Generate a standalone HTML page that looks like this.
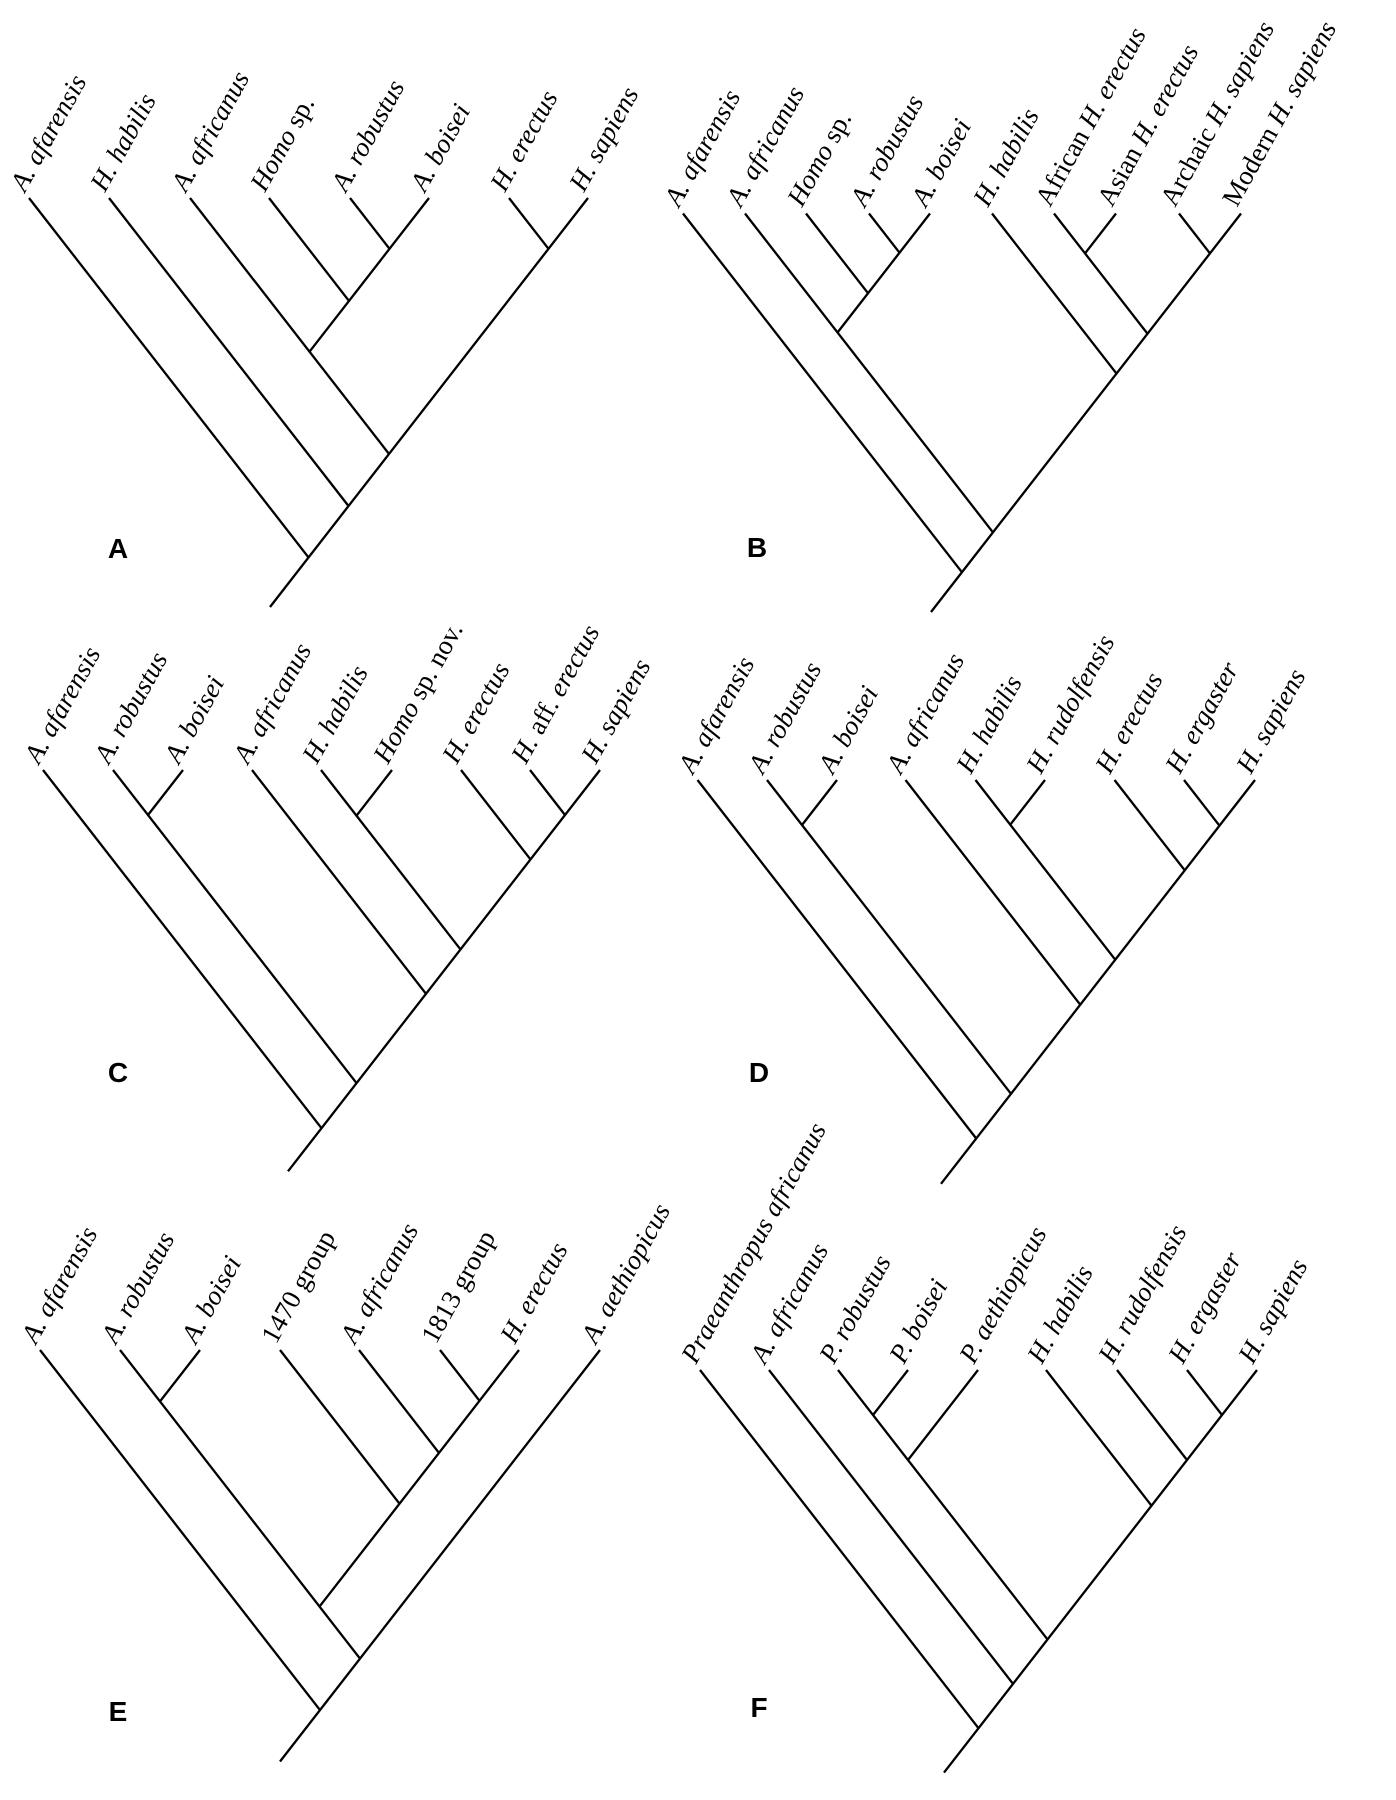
<!DOCTYPE html>
<html><head><meta charset="utf-8"><style>
html,body{margin:0;padding:0;background:#fff;}
svg{display:block;}
.l{stroke:#000;stroke-width:2.3;fill:none;stroke-linecap:butt;}
.t{font-family:"Liberation Serif",serif;font-size:27px;font-style:italic;fill:#000;}
.u{font-style:normal;}
.p{font-family:"Liberation Sans",sans-serif;font-weight:bold;font-size:28px;fill:#000;text-anchor:middle;}
</style></head><body>
<svg width="1396" height="1800" viewBox="0 0 1396 1800" xmlns="http://www.w3.org/2000/svg">
<g class="l">
<line x1="29" y1="198" x2="308.5" y2="557.4"/>
<line x1="109" y1="198" x2="348.5" y2="506"/>
<line x1="190" y1="198" x2="389" y2="453.9"/>
<line x1="269" y1="198" x2="349" y2="300.9"/>
<line x1="350" y1="198" x2="389.5" y2="248.8"/>
<line x1="429" y1="198" x2="309.5" y2="351.7"/>
<line x1="509" y1="198" x2="548.5" y2="248.8"/>
<line x1="588" y1="198" x2="270" y2="607"/>
<line x1="683" y1="213.5" x2="962" y2="572.3"/>
<line x1="745" y1="213.5" x2="993" y2="532.4"/>
<line x1="806" y1="213.5" x2="868" y2="293.2"/>
<line x1="869" y1="213.5" x2="899.5" y2="252.7"/>
<line x1="930" y1="213.5" x2="837.5" y2="332.5"/>
<line x1="992" y1="213.5" x2="1116.5" y2="373.6"/>
<line x1="1054" y1="213.5" x2="1147.5" y2="333.7"/>
<line x1="1116" y1="213.5" x2="1085" y2="253.4"/>
<line x1="1179" y1="213.5" x2="1210" y2="253.4"/>
<line x1="1241" y1="213.5" x2="931" y2="612"/>
<line x1="43" y1="770" x2="321.5" y2="1128.2"/>
<line x1="113" y1="770" x2="356.5" y2="1083.1"/>
<line x1="183" y1="770" x2="148" y2="815"/>
<line x1="252" y1="770" x2="426" y2="993.8"/>
<line x1="321" y1="770" x2="460.5" y2="949.4"/>
<line x1="392" y1="770" x2="356.5" y2="815.7"/>
<line x1="461" y1="770" x2="530.5" y2="859.4"/>
<line x1="530" y1="770" x2="565" y2="815"/>
<line x1="600" y1="770" x2="288" y2="1171.3"/>
<line x1="697.5" y1="780" x2="976.25" y2="1138.5"/>
<line x1="767" y1="780" x2="1011" y2="1093.8"/>
<line x1="837" y1="780" x2="802" y2="825"/>
<line x1="905.5" y1="780" x2="1080.25" y2="1004.7"/>
<line x1="975.5" y1="780" x2="1115.25" y2="959.7"/>
<line x1="1045" y1="780" x2="1010.25" y2="824.7"/>
<line x1="1114.5" y1="780" x2="1184.75" y2="870.3"/>
<line x1="1184" y1="780" x2="1219.5" y2="825.7"/>
<line x1="1255" y1="780" x2="941" y2="1183.8"/>
<line x1="40" y1="1350" x2="320" y2="1710.1"/>
<line x1="120" y1="1350" x2="360" y2="1658.6"/>
<line x1="200" y1="1350" x2="160" y2="1401.4"/>
<line x1="280" y1="1350" x2="399.5" y2="1503.7"/>
<line x1="359" y1="1350" x2="439" y2="1452.9"/>
<line x1="440" y1="1350" x2="479.5" y2="1400.8"/>
<line x1="519" y1="1350" x2="319.5" y2="1606.6"/>
<line x1="600" y1="1350" x2="280" y2="1761.5"/>
<line x1="700" y1="1370" x2="978.5" y2="1728.2"/>
<line x1="769" y1="1370" x2="1013" y2="1683.8"/>
<line x1="838" y1="1370" x2="1047.5" y2="1639.4"/>
<line x1="908" y1="1370" x2="873" y2="1415"/>
<line x1="978" y1="1370" x2="908" y2="1460"/>
<line x1="1046" y1="1370" x2="1151.5" y2="1505.7"/>
<line x1="1117" y1="1370" x2="1187" y2="1460"/>
<line x1="1187" y1="1370" x2="1222" y2="1415"/>
<line x1="1257" y1="1370" x2="944" y2="1772.6"/>
</g>
<g class="t">
<text transform="translate(25,193) rotate(-61)">A. afarensis</text>
<text transform="translate(105,193) rotate(-61)">H. habilis</text>
<text transform="translate(186,193) rotate(-61)">A. africanus</text>
<text transform="translate(265,193) rotate(-61)">Homo <tspan class="u">sp.</tspan></text>
<text transform="translate(346,193) rotate(-61)">A. robustus</text>
<text transform="translate(425,193) rotate(-61)">A. boisei</text>
<text transform="translate(505,193) rotate(-61)">H. erectus</text>
<text transform="translate(584,193) rotate(-61)">H. sapiens</text>
<text transform="translate(679,208) rotate(-61)">A. afarensis</text>
<text transform="translate(741,208) rotate(-61)">A. africanus</text>
<text transform="translate(802,208) rotate(-61)">Homo <tspan class="u">sp.</tspan></text>
<text transform="translate(865,208) rotate(-61)">A. robustus</text>
<text transform="translate(926,208) rotate(-61)">A. boisei</text>
<text transform="translate(988,208) rotate(-61)">H. habilis</text>
<text transform="translate(1050,208) rotate(-61)"><tspan class="u">African</tspan> H. erectus</text>
<text transform="translate(1112,208) rotate(-61)"><tspan class="u">Asian</tspan> H. erectus</text>
<text transform="translate(1175,208) rotate(-61)"><tspan class="u">Archaic</tspan> H. sapiens</text>
<text transform="translate(1237,208) rotate(-61)"><tspan class="u">Modern</tspan> H. sapiens</text>
<text transform="translate(39,765) rotate(-61)">A. afarensis</text>
<text transform="translate(109,765) rotate(-61)">A. robustus</text>
<text transform="translate(179,765) rotate(-61)">A. boisei</text>
<text transform="translate(248,765) rotate(-61)">A. africanus</text>
<text transform="translate(317,765) rotate(-61)">H. habilis</text>
<text transform="translate(388,765) rotate(-61)">Homo <tspan class="u">sp. nov.</tspan></text>
<text transform="translate(457,765) rotate(-61)">H. erectus</text>
<text transform="translate(526,765) rotate(-61)">H. <tspan class="u">aff.</tspan> erectus</text>
<text transform="translate(596,765) rotate(-61)">H. sapiens</text>
<text transform="translate(693,775) rotate(-61)">A. afarensis</text>
<text transform="translate(763,775) rotate(-61)">A. robustus</text>
<text transform="translate(833,775) rotate(-61)">A. boisei</text>
<text transform="translate(901,775) rotate(-61)">A. africanus</text>
<text transform="translate(971,775) rotate(-61)">H. habilis</text>
<text transform="translate(1041,775) rotate(-61)">H. rudolfensis</text>
<text transform="translate(1110,775) rotate(-61)">H. erectus</text>
<text transform="translate(1180,775) rotate(-61)">H. ergaster</text>
<text transform="translate(1251,775) rotate(-61)">H. sapiens</text>
<text transform="translate(36,1345) rotate(-61)">A. afarensis</text>
<text transform="translate(116,1345) rotate(-61)">A. robustus</text>
<text transform="translate(196,1345) rotate(-61)">A. boisei</text>
<text transform="translate(276,1345) rotate(-61)" class="u">1470 group</text>
<text transform="translate(355,1345) rotate(-61)">A. africanus</text>
<text transform="translate(436,1345) rotate(-61)" class="u">1813 group</text>
<text transform="translate(515,1345) rotate(-61)">H. erectus</text>
<text transform="translate(596,1345) rotate(-61)">A. aethiopicus</text>
<text transform="translate(696,1365) rotate(-61)">Praeanthropus africanus</text>
<text transform="translate(765,1365) rotate(-61)">A. africanus</text>
<text transform="translate(834,1365) rotate(-61)">P. robustus</text>
<text transform="translate(904,1365) rotate(-61)">P. boisei</text>
<text transform="translate(974,1365) rotate(-61)">P. aethiopicus</text>
<text transform="translate(1042,1365) rotate(-61)">H. habilis</text>
<text transform="translate(1113,1365) rotate(-61)">H. rudolfensis</text>
<text transform="translate(1183,1365) rotate(-61)">H. ergaster</text>
<text transform="translate(1253,1365) rotate(-61)">H. sapiens</text>
</g>
<text class="p" x="118" y="558">A</text>
<text class="p" x="757" y="557">B</text>
<text class="p" x="118" y="1082">C</text>
<text class="p" x="759" y="1082">D</text>
<text class="p" x="118" y="1721">E</text>
<text class="p" x="759" y="1717">F</text>
</svg>
</body></html>
